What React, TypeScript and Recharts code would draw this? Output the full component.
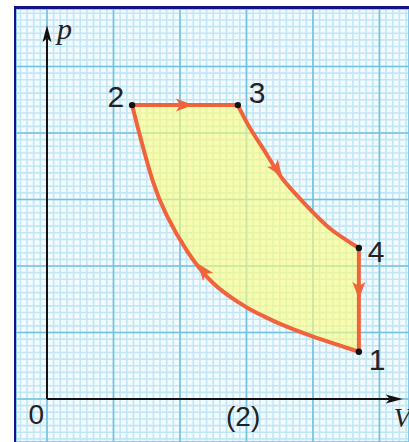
import { ComposedChart, XAxis, YAxis, CartesianGrid, Area, Line, Scatter } from "recharts"

// p-V cycle (1 unit = one big grid square)
const volume = [1.28, 1.4, 1.59, 1.8, 2.11, 2.5, 2.87, 3.05, 3.31, 3.55, 3.91, 4.26, 4.69]
const pressureTop = [4.42, 4.42, 4.42, 4.42, 4.42, 4.42, 4.42, 4.08, 3.67, 3.3, 2.9, 2.56, 2.27]
const pressureBottom = [4.42, 3.95, 3.28, 2.76, 2.22, 1.74, 1.46, 1.35, 1.22, 1.11, 0.97, 0.85, 0.71]

const stateLabels = ["1", "2", "3", "4"]
const stateV = [4.69, 1.28, 2.87, 4.69]
const stateP = [0.71, 4.42, 4.42, 2.27]

// direction arrows on the cycle
const arrowV = [2.06, 3.46, 4.69, 2.35]
const arrowP = [4.42, 3.45, 1.64, 1.93]
const arrowAngle = [0, 55, 90, -128]

// axis arrow tips
const axisTipV = [0, 5.35]
const axisTipP = [5.62, 0]
const axisTipAngle = [-90, 0]

const noteText = ["p", "V", "0", "(2)"]
const noteV = [0, 5.35, 0, 2.95]
const noteP = [5.62, 0, 0, 0]

const X_DOMAIN: [number, number] = [-0.466, 5.444]
const Y_DOMAIN: [number, number] = [-0.647, 5.865]

const LINE = "#f0643c"
const FILL = "#fbfb7c"

const steps = (from: number, to: number, s: number) =>
  Array.from({ length: Math.round((to - from) / s) + 1 }, (_, i) => +(from + i * s).toFixed(2))

const minorV = steps(-0.4, 5.4, 0.1)
const minorP = steps(-0.6, 5.8, 0.1)
const majorV = [0, 1, 2, 3, 4, 5]
const majorP = [0, 1, 2, 3, 4, 5]

const fillData = volume.map((v, i) => ({ v, p: [pressureBottom[i], pressureTop[i]] }))
const pts = (vs: number[], ps: number[]) => vs.map((v, i) => ({ v, p: ps[i] }))
const isobar = pts(volume.slice(0, 7), pressureTop.slice(0, 7))
const expansion = pts(volume.slice(6), pressureTop.slice(6))
const compression = pts(volume, pressureBottom)
const last = volume.length - 1
const cooling = pts([volume[last], volume[last]], [pressureTop[last], pressureBottom[last]])
const yAxisLine = pts([0, 0], [0, axisTipP[0] - 0.2])
const xAxisLine = pts([0, axisTipV[1] - 0.2], [0, 0])

const states = stateLabels.map((label, i) => ({ v: stateV[i], p: stateP[i], label }))
const arrows = arrowV.map((v, i) => ({ v, p: arrowP[i], angle: arrowAngle[i] }))
const axisTips = axisTipV.map((v, i) => ({ v, p: axisTipP[i], angle: axisTipAngle[i] }))
const notes = noteText.map((text, i) => ({ v: noteV[i], p: noteP[i], text }))

const STATE_STYLE: Record<string, { dx: number; dy: number; anchor: "start" | "end" }> = {
  "1": { dx: 10, dy: 18, anchor: "start" },
  "2": { dx: -8, dy: 2, anchor: "end" },
  "3": { dx: 11, dy: -2, anchor: "start" },
  "4": { dx: 9, dy: 14, anchor: "start" },
}

const NOTE_STYLE: Record<string, { dx: number; dy: number; anchor: "start" | "middle" | "end"; italic: boolean; size: number }> = {
  p: { dx: 10, dy: 14, anchor: "start", italic: true, size: 30 },
  V: { dx: -9, dy: 28, anchor: "start", italic: true, size: 27 },
  "0": { dx: -3, dy: 25, anchor: "end", italic: false, size: 28 },
  "(2)": { dx: 0, dy: 27, anchor: "middle", italic: false, size: 28 },
}

const FlowArrow = (props: any) => {
  const { cx, cy, payload } = props
  return (
    <path
      d="M9,0 L-8,-6.5 L-4,0 L-8,6.5 Z"
      fill={LINE}
      transform={`translate(${cx},${cy}) rotate(${payload.angle})`}
    />
  )
}

const AxisArrow = (props: any) => {
  const { cx, cy, payload } = props
  return (
    <path
      d="M0,0 L-17,-4.5 L-13,0 L-17,4.5 Z"
      fill="#111"
      transform={`translate(${cx},${cy}) rotate(${payload.angle})`}
    />
  )
}

const StatePoint = (props: any) => {
  const { cx, cy, payload } = props
  const s = STATE_STYLE[payload.label]
  return (
    <g>
      <circle cx={cx} cy={cy} r={3.2} fill="#111" />
      <text
        x={cx + s.dx}
        y={cy + s.dy}
        textAnchor={s.anchor}
        fontFamily="'Liberation Sans', Arial, sans-serif"
        fontSize={30}
        fill="#222"
      >
        {payload.label}
      </text>
    </g>
  )
}

const Note = (props: any) => {
  const { cx, cy, payload } = props
  const s = NOTE_STYLE[payload.text]
  return (
    <text
      x={cx + s.dx}
      y={cy + s.dy}
      textAnchor={s.anchor}
      fontFamily={s.italic ? "'Liberation Serif', 'Times New Roman', serif" : "'Liberation Sans', Arial, sans-serif"}
      fontStyle={s.italic ? "italic" : "normal"}
      fontSize={s.size}
      fill="#222"
    >
      {payload.text}
    </text>
  )
}

export default function App() {
  return (
    <div style={{ position: "absolute", left: 0, top: 0, width: 409, height: 442, background: "#fff", overflow: "hidden" }}>
      <div
        style={{
          position: "absolute",
          left: 14,
          top: 6,
          width: 395,
          height: 436,
          boxSizing: "border-box",
          borderTop: "3px solid #12128a",
          borderLeft: "2px solid #12128a",
        }}
      >
        <ComposedChart width={393} height={433} data={fillData} margin={{ top: 0, right: 0, bottom: 0, left: 0 }}>
          <XAxis type="number" dataKey="v" domain={X_DOMAIN} allowDataOverflow ticks={majorV} interval={0} hide />
          <YAxis type="number" dataKey="p" domain={Y_DOMAIN} allowDataOverflow ticks={majorP} interval={0} hide />
          <XAxis xAxisId="minor" type="number" dataKey="v" domain={X_DOMAIN} allowDataOverflow ticks={minorV} interval={0} hide />
          <YAxis yAxisId="minor" type="number" dataKey="p" domain={Y_DOMAIN} allowDataOverflow ticks={minorP} interval={0} hide />
          <CartesianGrid xAxisId="minor" yAxisId="minor" stroke="#c3e6f5" strokeWidth={1.6} fill="#f2fbff" fillOpacity={1} />
          <CartesianGrid stroke="#72c2e2" strokeWidth={1.6} />
          <Area
            dataKey="p"
            type="natural"
            stroke="none"
            fill={FILL}
            fillOpacity={0.62}
            isAnimationActive={false}
            activeDot={false}
          />
          <Line data={yAxisLine} dataKey="p" stroke="#111" strokeWidth={2} dot={false} activeDot={false} isAnimationActive={false} />
          <Line data={xAxisLine} dataKey="p" stroke="#111" strokeWidth={2} dot={false} activeDot={false} isAnimationActive={false} />
          <Line data={isobar} dataKey="p" type="linear" stroke={LINE} strokeWidth={4} dot={false} activeDot={false} isAnimationActive={false} />
          <Line data={expansion} dataKey="p" type="natural" stroke={LINE} strokeWidth={4} dot={false} activeDot={false} isAnimationActive={false} />
          <Line data={cooling} dataKey="p" type="linear" stroke={LINE} strokeWidth={4} dot={false} activeDot={false} isAnimationActive={false} />
          <Line data={compression} dataKey="p" type="natural" stroke={LINE} strokeWidth={4} dot={false} activeDot={false} isAnimationActive={false} />
          <Scatter data={arrows} dataKey="p" shape={FlowArrow} isAnimationActive={false} />
          <Scatter data={axisTips} dataKey="p" shape={AxisArrow} isAnimationActive={false} />
          <Scatter data={states} dataKey="p" shape={StatePoint} isAnimationActive={false} />
          <Scatter data={notes} dataKey="p" shape={Note} isAnimationActive={false} />
        </ComposedChart>
      </div>
    </div>
  )
}
